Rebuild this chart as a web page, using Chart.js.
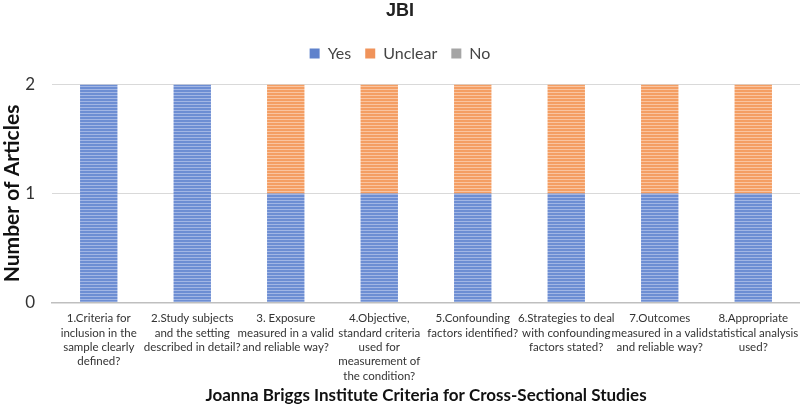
<!DOCTYPE html>
<html>
<head>
<meta charset="utf-8">
<script src="https://cdn.jsdelivr.net/npm/chart.js@4"></script>
<style>
  html, body { margin: 0; padding: 0; background: #fff; }
  #wrap { width: 800px; height: 405px; }
</style>
</head>
<body>
<div id="wrap"><canvas id="jbiChart" width="800" height="405"></canvas></div>
<script>
// categories (wrapped as in the original)
const criteria = [
  ['1.Criteria for', 'inclusion in the', 'sample clearly', 'defined?'],
  ['2.Study subjects', 'and the setting', 'described in detail?'],
  ['3. Exposure', 'measured in a valid', 'and reliable way?'],
  ['4.Objective,', 'standard criteria', 'used for', 'measurement of', 'the condition?'],
  ['5.Confounding', 'factors identified?'],
  ['6.Strategies to deal', 'with confounding', 'factors stated?'],
  ['7.Outcomes', 'measured in a valid', 'and reliable way?'],
  ['8.Appropriate', 'statistical analysis', 'used?']
];
const yesCounts     = [2, 2, 1, 1, 1, 1, 1, 1];
const unclearCounts = [0, 0, 1, 1, 1, 1, 1, 1];
const noCounts      = [0, 0, 0, 0, 0, 0, 0, 0];
const yTicks = [0, 1, 2];

// striped fill like the original bars
function stripes(base, light) {
  const c = document.createElement('canvas');
  c.width = 4; c.height = 3;
  const g = c.getContext('2d');
  g.fillStyle = base; g.fillRect(0, 0, 4, 3);
  g.fillStyle = light; g.fillRect(0, 2, 4, 1);
  return g.createPattern(c, 'repeat');
}

const font = "Lato, 'Open Sans', sans-serif";

// push the plot a bit further below the legend
const legendGap = {
  id: 'legendGap',
  beforeInit(chart) {
    const fit = chart.legend.fit;
    chart.legend.fit = function() { fit.call(this); this.height += 13; };
  }
};

const el = document.getElementById('jbiChart');
new Chart(el.getContext('2d'), {
  type: 'bar',
  plugins: [legendGap],
  data: {
    labels: criteria,
    datasets: [
      { label: 'Yes', data: yesCounts, backgroundColor: stripes('#6d8ed3', '#a2b6e4'), borderWidth: 0 },
      { label: 'Unclear', data: unclearCounts, backgroundColor: stripes('#f49e63', '#f9c4a0'), borderWidth: 0 },
      { label: 'No', data: noCounts, backgroundColor: '#a5a5a5', borderWidth: 0 }
    ]
  },
  options: {
    responsive: false,
    animation: false,
    layout: { padding: { left: 0, right: 0, top: 0, bottom: 0 } },
    datasets: { bar: { barPercentage: 0.4, categoryPercentage: 1.0 } },
    plugins: {
      title: {
        display: true, text: 'JBI', color: '#222',
        font: { family: "'Liberation Sans', sans-serif", size: 18, weight: 'bold' },
        padding: { top: 0, bottom: 10 }
      },
      legend: {
        display: true,
        labels: {
          color: '#444', boxWidth: 10, boxHeight: 10, padding: 14,
          font: { family: font, size: 16 },
          generateLabels(chart) {
            return chart.data.datasets.map((ds, i) => ({
              text: ds.label,
              fillStyle: ['#5f82cc', '#f0935a', '#a5a5a5'][i],
              strokeStyle: 'transparent', lineWidth: 0,
              datasetIndex: i, hidden: false, fontColor: '#444'
            }));
          }
        }
      },
      tooltip: { enabled: false }
    },
    scales: {
      x: {
        stacked: true,
        // chart.js doubles tick padding in the box size; trim it back
        afterFit(scale) { scale.paddingLeft = 0; scale.paddingRight = 0; scale.height -= 6; },
        grid: { display: false, drawTicks: false },
        border: { color: '#bfbfbf', width: 1.5 },
        ticks: { color: '#333', maxRotation: 0, autoSkip: false, padding: 9,
          font: { family: font, size: 11.5, lineHeight: 1.25 } },
        title: { display: true, text: 'Joanna Briggs Institute Criteria for Cross-Sectional Studies',
          color: '#111', font: { family: font, size: 17, weight: 'bold', lineHeight: 1.05 },
          padding: { top: 0, bottom: 1 } }
      },
      y: {
        stacked: true, min: 0, max: 2,
        afterBuildTicks(axis) { axis.ticks = yTicks.map(v => ({ value: v })); },
        afterFit(scale) { scale.width = 52; },
        grid: { color: '#d9d9d9', drawTicks: false },
        border: { display: false },
        ticks: { color: '#333', padding: 17, font: { family: font, size: 17 } },
        title: { display: true, text: 'Number of Articles', color: '#111',
          font: { family: font, size: 21, weight: 'bold' }, padding: { top: 0, bottom: 0 } }
      }
    }
  }
});
</script>
</body>
</html>
